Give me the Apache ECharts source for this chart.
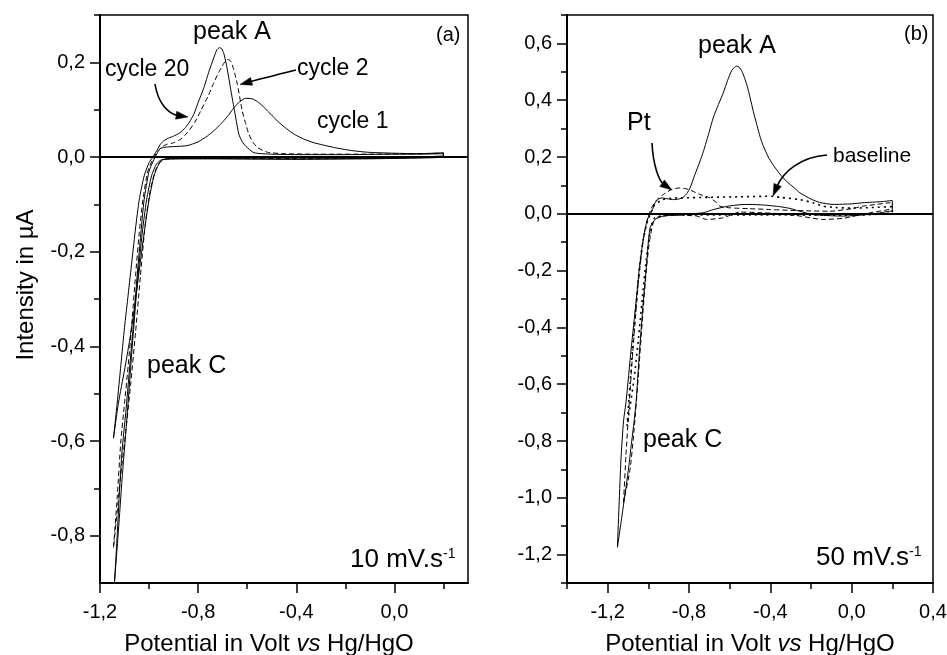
<!DOCTYPE html>
<html><head><meta charset="utf-8">
<script src="https://cdn.jsdelivr.net/npm/echarts@6/dist/echarts.min.js"></script>
<style>html,body{margin:0;padding:0;background:#fff}#c{width:947px;height:655px}</style>
</head><body><div id="c"></div>
<script>
// ---- tick values ----
const leftXTicks = [-1.2, -0.8, -0.4, 0.0];
const leftXMinor = [-1.0, -0.6, -0.2, 0.2];
const leftYTicks = [-0.8, -0.6, -0.4, -0.2, 0.0, 0.2];
const leftYMinor = [-0.7, -0.5, -0.3, -0.1, 0.1, 0.3];
const rightXTicks = [-1.2, -0.8, -0.4, 0.0, 0.4];
const rightXMinor = [-1.4, -1.0, -0.6, -0.2, 0.2];
const rightYTicks = [-1.2, -1.0, -0.8, -0.6, -0.4, -0.2, 0.0, 0.2, 0.4, 0.6];
const rightYMinor = [-1.3, -1.1, -0.9, -0.7, -0.5, -0.3, -0.1, 0.1, 0.3, 0.5, 0.7];

// ---- panel (a): 10 mV/s, potential (V) vs intensity (µA) ----
const cycle1 = [
 [-1.141,-0.899],[-1.13,-0.80],[-1.12,-0.70],[-1.11,-0.62],[-1.095,-0.54],[-1.08,-0.45],[-1.065,-0.36],[-1.05,-0.26],
 [-1.035,-0.17],[-1.02,-0.09],[-1.0,-0.03],[-0.98,-0.005],[-0.965,0.01],[-0.954,0.018],[-0.93,0.021],[-0.9,0.022],
 [-0.845,0.024],[-0.8,0.032],[-0.763,0.044],[-0.735,0.056],[-0.709,0.069],[-0.68,0.086],[-0.654,0.104],[-0.63,0.117],
 [-0.606,0.124],[-0.58,0.123],[-0.558,0.117],[-0.535,0.107],[-0.517,0.097],[-0.495,0.086],[-0.477,0.076],[-0.44,0.06],
 [-0.408,0.048],[-0.37,0.038],[-0.327,0.03],[-0.245,0.02],[-0.18,0.014],[-0.108,0.01],[0.0,0.008],[0.1,0.007],[0.2,0.009],
 [0.2,0.003],[0.1,0.0],[0.0,-0.003],[-0.2,-0.004],[-0.4,-0.005],[-0.6,-0.004],[-0.8,-0.003],[-0.9,-0.003],[-0.95,-0.006],
 [-0.97,-0.015],[-0.99,-0.04],[-1.01,-0.09],[-1.03,-0.17],[-1.05,-0.28],[-1.07,-0.41],[-1.09,-0.55],[-1.11,-0.68],
 [-1.125,-0.79],[-1.141,-0.899]
];
const cycle2 = [
 [-1.145,-0.825],[-1.13,-0.72],[-1.115,-0.6],[-1.1,-0.52],[-1.085,-0.44],[-1.07,-0.35],[-1.055,-0.25],[-1.04,-0.16],
 [-1.025,-0.09],[-1.005,-0.03],[-0.985,-0.005],[-0.965,0.012],[-0.945,0.022],[-0.927,0.027],[-0.9,0.03],[-0.87,0.038],
 [-0.845,0.051],[-0.815,0.072],[-0.79,0.097],[-0.76,0.128],[-0.736,0.157],[-0.715,0.18],[-0.702,0.192],[-0.69,0.202],
 [-0.681,0.206],[-0.67,0.204],[-0.661,0.195],[-0.65,0.175],[-0.64,0.153],[-0.63,0.125],[-0.62,0.097],[-0.605,0.068],
 [-0.593,0.048],[-0.575,0.03],[-0.558,0.02],[-0.517,0.01],[-0.45,0.007],[-0.3,0.006],[-0.1,0.006],[0.1,0.007],[0.2,0.008],
 [0.2,0.001],[0.0,-0.002],[-0.4,-0.003],[-0.8,-0.003],[-0.93,-0.004],[-0.955,-0.01],[-0.975,-0.03],[-0.995,-0.07],
 [-1.015,-0.14],[-1.035,-0.25],[-1.055,-0.37],[-1.075,-0.48],[-1.095,-0.58],[-1.115,-0.67],[-1.13,-0.75],[-1.145,-0.825]
];
const cycle20 = [
 [-1.145,-0.594],[-1.13,-0.52],[-1.115,-0.44],[-1.1,-0.36],[-1.085,-0.29],[-1.07,-0.22],[-1.055,-0.15],[-1.04,-0.09],
 [-1.02,-0.04],[-1.0,-0.012],[-0.985,0.0],[-0.97,0.012],[-0.955,0.026],[-0.941,0.034],[-0.92,0.04],[-0.9,0.044],
 [-0.875,0.051],[-0.852,0.062],[-0.835,0.074],[-0.818,0.09],[-0.8,0.115],[-0.777,0.146],[-0.755,0.182],[-0.736,0.21],
 [-0.724,0.226],[-0.713,0.231],[-0.703,0.228],[-0.695,0.218],[-0.685,0.196],[-0.675,0.167],[-0.665,0.136],[-0.654,0.104],
 [-0.644,0.075],[-0.634,0.048],[-0.62,0.032],[-0.606,0.023],[-0.572,0.009],[-0.5,0.006],[-0.381,0.005],[-0.2,0.005],
 [0.0,0.006],[0.1,0.006],[0.2,0.007],
 [0.2,0.0],[0.0,-0.003],[-0.4,-0.004],[-0.8,-0.004],[-0.94,-0.005],[-0.96,-0.015],[-0.98,-0.04],[-1.0,-0.09],
 [-1.02,-0.16],[-1.04,-0.24],[-1.06,-0.32],[-1.08,-0.39],[-1.1,-0.45],[-1.125,-0.52],[-1.145,-0.594]
];

// ---- panel (b): 50 mV/s ----
const peakCurve = [
 [-1.152,-1.174],[-1.135,-0.87],[-1.122,-0.73],[-1.109,-0.658],[-1.085,-0.48],[-1.06,-0.307],[-1.044,-0.19],
 [-1.025,-0.09],[-1.005,-0.02],[-0.983,0.009],[-0.967,0.039],[-0.95,0.052],[-0.934,0.056],[-0.9,0.052],[-0.877,0.05],
 [-0.85,0.052],[-0.828,0.059],[-0.81,0.072],[-0.795,0.091],[-0.771,0.138],[-0.746,0.185],[-0.729,0.22],[-0.70,0.29],
 [-0.68,0.34],[-0.655,0.385],[-0.632,0.425],[-0.61,0.47],[-0.591,0.503],[-0.575,0.517],[-0.566,0.52],[-0.553,0.516],
 [-0.54,0.502],[-0.525,0.475],[-0.51,0.44],[-0.495,0.395],[-0.48,0.35],[-0.465,0.31],[-0.45,0.27],[-0.435,0.24],
 [-0.41,0.2],[-0.386,0.172],[-0.353,0.14],[-0.32,0.114],[-0.28,0.09],[-0.255,0.074],[-0.2,0.052],[-0.157,0.04],
 [-0.092,0.033],[0.0,0.035],[0.056,0.039],[0.15,0.043],[0.2,0.047],
 [0.2,0.01],[0.187,0.009],[0.088,-0.002],[-0.043,-0.008],[-0.19,-0.003],[-0.255,0.009],[-0.304,0.019],[-0.353,0.025],
 [-0.435,0.031],[-0.5,0.033],[-0.55,0.032],[-0.615,0.026],[-0.68,0.015],[-0.729,0.004],[-0.828,-0.002],[-0.926,-0.008],
 [-0.967,-0.02],[-0.991,-0.049],[-1.0,-0.1],[-1.01,-0.19],[-1.025,-0.31],[-1.045,-0.5],[-1.06,-0.66],[-1.07,-0.73],
 [-1.085,-0.82],[-1.096,-0.89],[-1.125,-1.04],[-1.152,-1.174]
];
const ptCurve = [
 [-1.122,-1.016],[-1.11,-0.85],[-1.095,-0.68],[-1.08,-0.52],[-1.065,-0.38],[-1.05,-0.25],[-1.035,-0.15],[-1.02,-0.07],
 [-1.0,-0.01],[-0.985,0.02],[-0.96,0.048],[-0.926,0.068],[-0.885,0.086],[-0.844,0.091],[-0.803,0.086],[-0.746,0.068],
 [-0.697,0.056],[-0.664,0.039],[-0.648,0.027],[-0.599,0.021],[-0.5,0.018],[-0.4,0.015],[-0.3,0.012],[-0.2,0.01],
 [-0.108,0.009],[0.0,0.018],[0.056,0.027],[0.187,0.039],[0.2,0.04],
 [0.2,0.02],[0.1,0.005],[0.0,-0.01],[-0.043,-0.016],[-0.141,-0.02],[-0.255,-0.008],[-0.35,0.0],[-0.45,0.004],
 [-0.55,0.006],[-0.632,-0.014],[-0.713,-0.02],[-0.762,-0.008],[-0.85,-0.005],[-0.95,-0.01],[-0.975,-0.03],[-0.995,-0.1],
 [-1.01,-0.2],[-1.03,-0.38],[-1.05,-0.58],[-1.07,-0.76],[-1.09,-0.9],[-1.122,-1.016]
];
const baselineCurve = [
 [-1.105,-0.747],[-1.09,-0.6],[-1.075,-0.45],[-1.06,-0.32],[-1.045,-0.2],[-1.03,-0.11],[-1.01,-0.04],[-0.99,0.0],
 [-0.97,0.03],[-0.93,0.05],[-0.88,0.055],[-0.844,0.056],[-0.7,0.058],[-0.55,0.06],[-0.386,0.062],[-0.353,0.058],
 [-0.255,0.05],[-0.19,0.039],[-0.141,0.027],[-0.08,0.022],[0.0,0.02],[0.1,0.022],[0.2,0.025],
 [0.2,0.005],[0.0,-0.005],[-0.5,-0.004],[-0.9,-0.005],[-0.97,-0.015],[-0.99,-0.06],[-1.01,-0.16],[-1.03,-0.3],
 [-1.05,-0.45],[-1.07,-0.58],[-1.09,-0.68],[-1.105,-0.747]
];

const FONT = 'Liberation Sans, Arial, Helvetica, sans-serif';
const fmt = v => (Math.round(v * 10) / 10).toFixed(1).replace('.', ',');

function xAxes(grid, min, max, ticks, minor, name, namePad) {
  return [{
    type: 'value', gridIndex: grid, min, max, position: 'bottom',
    axisLine: { show: true, onZero: false, lineStyle: { color: '#000', width: 2 } },
    axisTick: { show: true, inside: false, length: 10, customValues: ticks, lineStyle: { color: '#000', width: 1.5 } },
    axisLabel: { show: true, customValues: ticks, formatter: fmt, margin: 19, fontSize: 20, color: '#000', fontFamily: FONT },
    splitLine: { show: false },
    name, nameLocation: 'middle', nameGap: 49,
    nameTextStyle: { fontSize: 24, color: '#000', fontFamily: FONT, padding: namePad,
      rich: { i: { fontStyle: 'italic', fontSize: 24, color: '#000', fontFamily: FONT } } }
  }, {
    type: 'value', gridIndex: grid, min, max, position: 'bottom',
    axisLine: { show: false, onZero: false },
    axisTick: { show: true, inside: false, length: 6, customValues: minor, lineStyle: { color: '#000', width: 1.5 } },
    axisLabel: { show: false }, splitLine: { show: false }
  }];
}
function yAxes(grid, min, max, ticks, minor, name) {
  const main = {
    type: 'value', gridIndex: grid, min, max, position: 'left',
    axisLine: { show: true, onZero: false, lineStyle: { color: '#000', width: 2 } },
    axisTick: { show: true, inside: false, length: 10, customValues: ticks, lineStyle: { color: '#000', width: 1.5 } },
    axisLabel: { show: true, customValues: ticks, formatter: fmt, margin: 15, fontSize: 20, color: '#000', fontFamily: FONT },
    splitLine: { show: false }
  };
  if (name) {
    Object.assign(main, { name, nameLocation: 'middle', nameGap: 62,
      nameTextStyle: { fontSize: 24, color: '#000', fontFamily: FONT, padding: [0, 0, 0, 28] } });
  }
  return [main, {
    type: 'value', gridIndex: grid, min, max, position: 'left',
    axisLine: { show: false, onZero: false },
    axisTick: { show: true, inside: false, length: 6, customValues: minor, lineStyle: { color: '#000', width: 1.5 } },
    axisLabel: { show: false }, splitLine: { show: false }
  }];
}

const zeroLine = {
  silent: true, symbol: 'none', label: { show: false },
  lineStyle: { color: '#000', width: 2, type: 'solid' },
  data: [{ yAxis: 0 }]
};
function curve(data, xi, yi, type, width, withZero) {
  const s = {
    type: 'line', data, xAxisIndex: xi, yAxisIndex: yi, showSymbol: false, symbol: 'none',
    smooth: 0.2, clip: true, silent: true,
    lineStyle: { color: '#000', width, type }
  };
  if (withZero) s.markLine = zeroLine;
  return s;
}

// arrows (annotation graphics)
function arrow(p0, c1, c2, p3, head) {
  const dx = p3[0] - c2[0], dy = p3[1] - c2[1];
  const L = Math.hypot(dx, dy) || 1;
  const ux = dx / L, uy = dy / L;
  const hl = head || 12, hw = 4;
  const bx = p3[0] - ux * hl, by = p3[1] - uy * hl;
  const end = [p3[0] - ux * (hl - 2), p3[1] - uy * (hl - 2)];
  return [
    { type: 'bezierCurve', silent: true,
      shape: { x1: p0[0], y1: p0[1], cpx1: c1[0], cpy1: c1[1], cpx2: c2[0], cpy2: c2[1], x2: end[0], y2: end[1] },
      style: { stroke: '#000', lineWidth: 1.6, fill: null } },
    { type: 'polygon', silent: true,
      shape: { points: [p3, [bx - uy * hw, by + ux * hw], [bx + uy * hw, by - ux * hw]] },
      style: { fill: '#000', stroke: '#000', lineWidth: 0.5 } }
  ];
}
function txt(text, x, y, size, extra) {
  return Object.assign({ type: 'text', silent: true, x, y,
    style: Object.assign({ text, fill: '#000', font: size + 'px ' + FONT, textAlign: 'left', textVerticalAlign: 'middle' }, extra || {}) });
}
function rateText(main, x, y) {
  return { type: 'text', silent: true, x, y,
    style: { text: '{m|' + main + '}{s|-1}', fill: '#000', textAlign: 'left', textVerticalAlign: 'middle',
      rich: { m: { fontSize: 26, fontFamily: FONT, fill: '#000', color: '#000' },
              s: { fontSize: 14, fontFamily: FONT, fill: '#000', color: '#000', verticalAlign: 'top', padding: [0, 0, 12, 0] } } } };
}

const graphics = [
  txt('peak A', 193, 32, 25),
  txt('(a)', 436, 35, 20),
  txt('cycle 20', 105, 70, 23),
  txt('cycle 2', 297, 69, 23),
  txt('cycle 1', 317, 122, 23),
  txt('peak C', 147, 366, 25),
  rateText('10 mV.s', 350, 560),
  ...arrow([155, 84], [158, 103], [168, 114], [188, 117], 12),
  ...arrow([296, 70], [280, 74], [260, 79], [240, 84.5], 12),
  txt('peak A', 698, 46, 25),
  txt('(b)', 904, 34, 20),
  txt('Pt', 627, 123, 25),
  txt('baseline', 833, 156, 21),
  txt('peak C', 643, 440, 25),
  rateText('50 mV.s', 816, 558),
  ...arrow([652, 143], [653, 165], [659, 181], [672, 190], 12),
  ...arrow([827, 155], [800, 157], [783, 172], [773, 196], 12)
];

const chart = echarts.init(document.getElementById('c'), null, { renderer: 'canvas' });
chart.setOption({
  animation: false,
  backgroundColor: '#fff',
  grid: [
    { left: 100, top: 15, width: 368, height: 568, show: true, borderColor: '#000', borderWidth: 1.5,
      containLabel: false, outerBoundsMode: 'none' },
    { left: 567, top: 15, width: 366, height: 568, show: true, borderColor: '#000', borderWidth: 1.5,
      containLabel: false, outerBoundsMode: 'none' }
  ],
  xAxis: [
    ...xAxes(0, -1.2, 0.3, leftXTicks, leftXMinor, 'Potential in Volt {i|vs} Hg/HgO', [0, 30, 0, 0]),
    ...xAxes(1, -1.4, 0.4, rightXTicks, rightXMinor, 'Potential in Volt {i|vs} Hg/HgO', [0, 0, 0, 0])
  ],
  yAxis: [
    ...yAxes(0, -0.9, 0.3, leftYTicks, leftYMinor, 'Intensity in µA'),
    ...yAxes(1, -1.3, 0.7, rightYTicks, rightYMinor, null)
  ],
  series: [
    curve(cycle1, 0, 0, 'solid', 1, true),
    curve(cycle2, 0, 0, [5, 3], 1, false),
    curve(cycle20, 0, 0, 'solid', 1, false),
    curve(peakCurve, 2, 2, 'solid', 1, true),
    curve(ptCurve, 2, 2, [5, 3], 1, false),
    curve(baselineCurve, 2, 2, [2, 4], 1.6, false)
  ],
  graphic: { elements: graphics }
});
</script></body></html>
